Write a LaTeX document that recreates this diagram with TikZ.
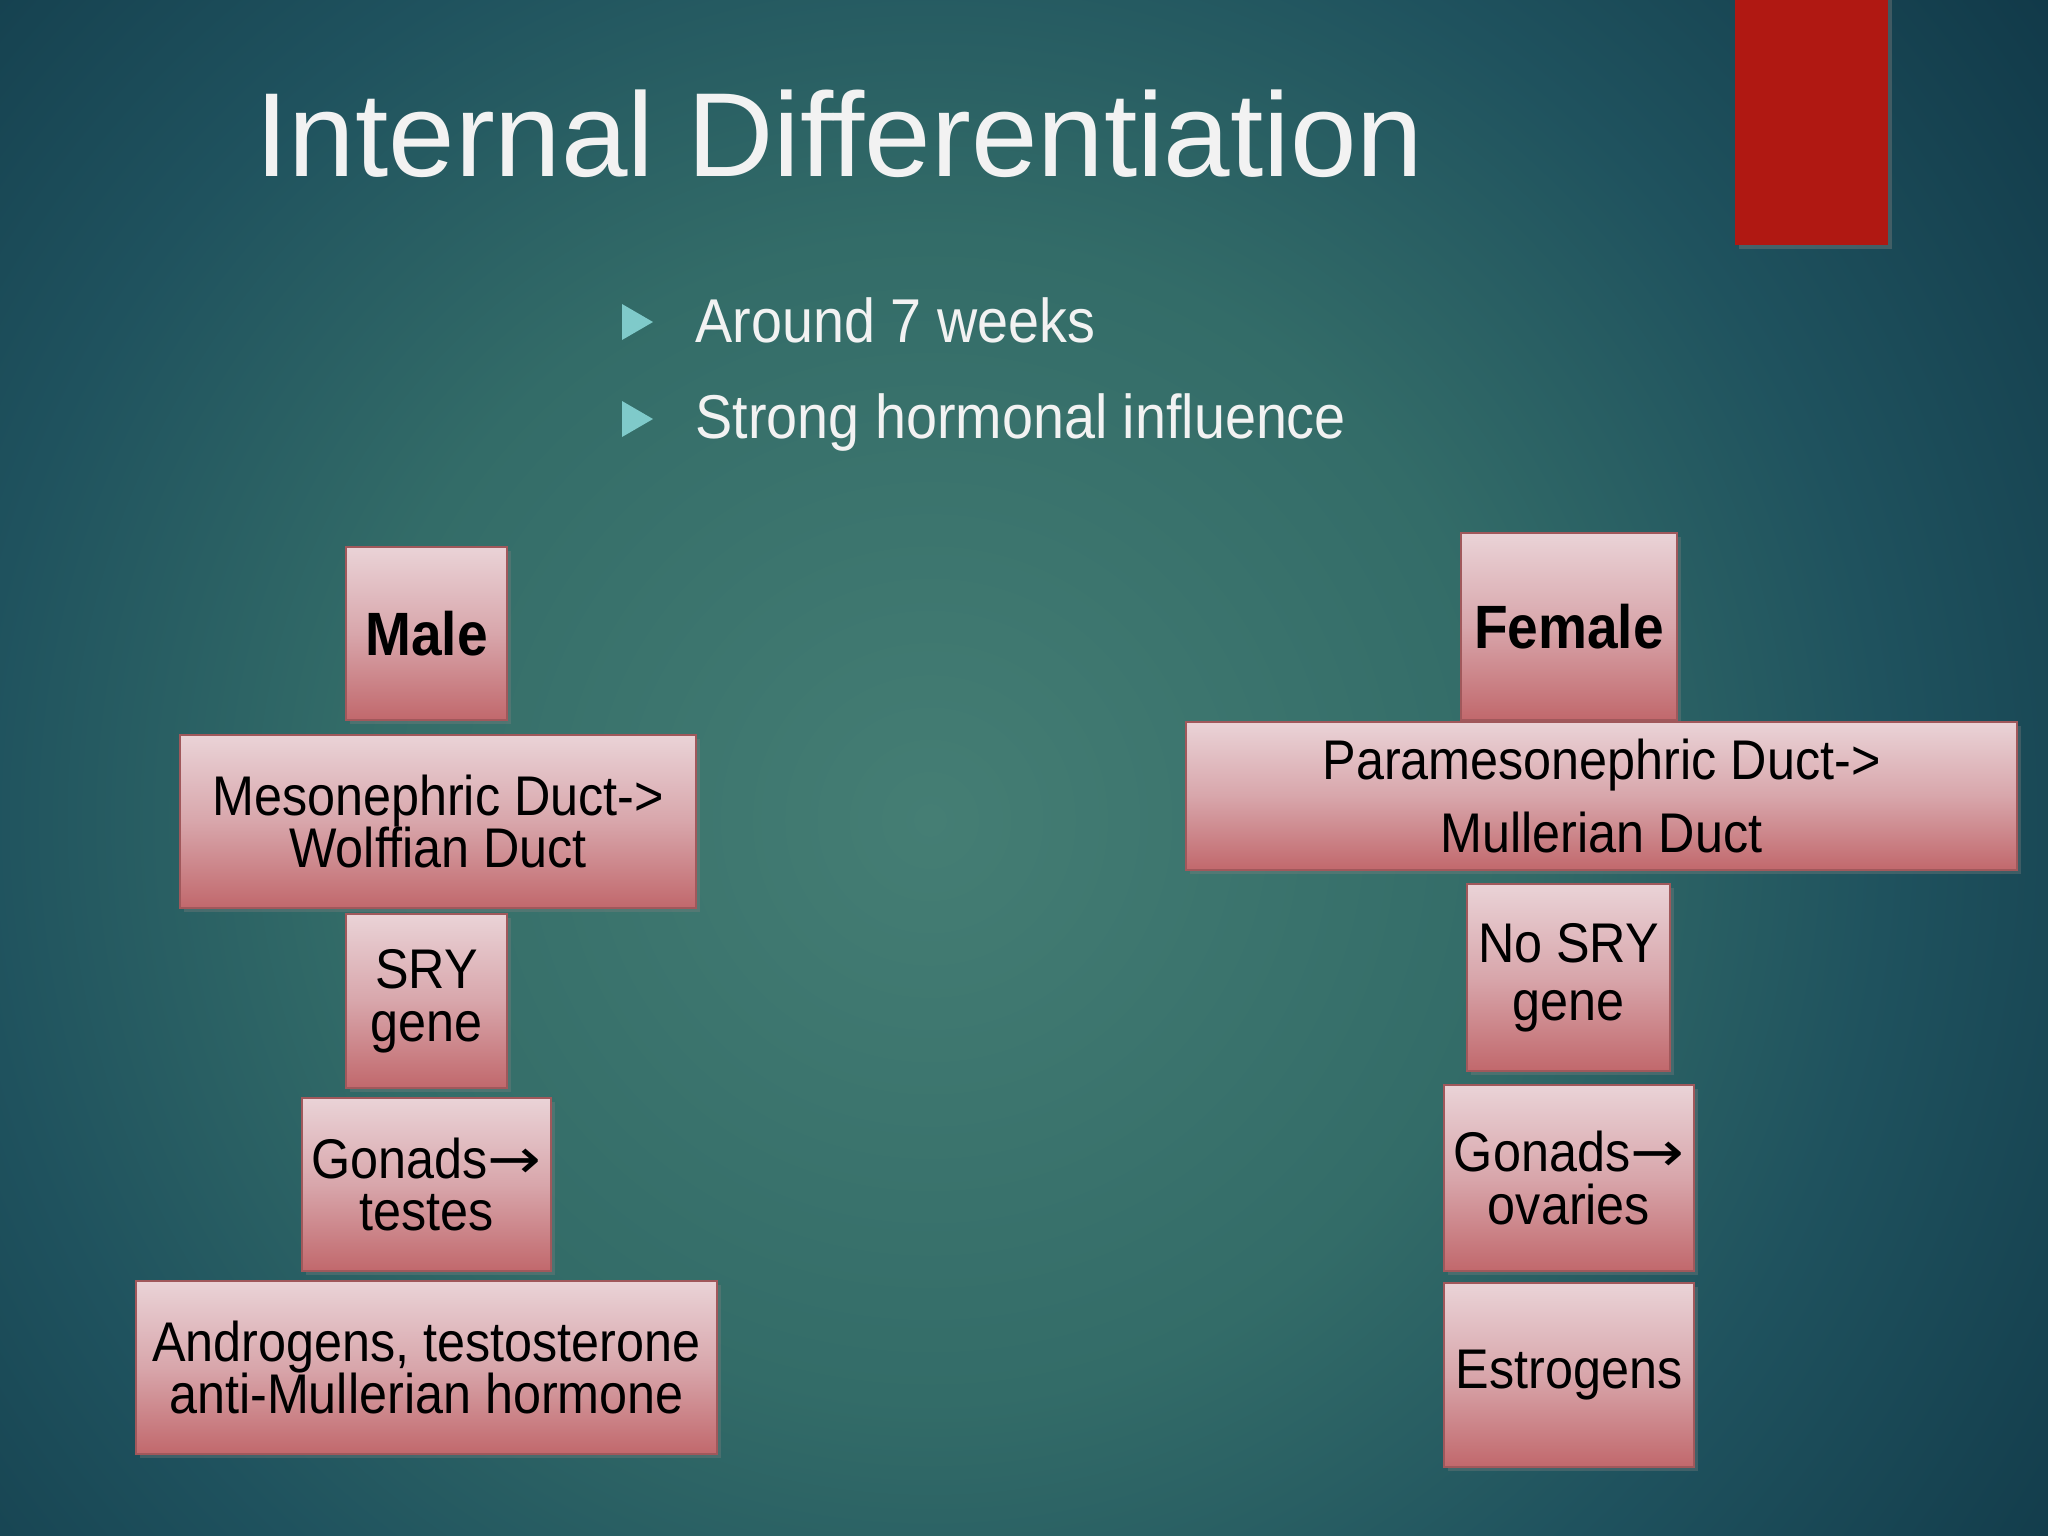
\documentclass[tikz,border=0pt]{standalone}
\usepackage{fontspec}
\usepackage{graphicx}
\setmainfont{Liberation Sans}
\newfontfamily\narrowfont{Liberation Sans}[FakeStretch=0.9]
\newfontfamily\arrowfont{DejaVu Sans}
\usetikzlibrary{shadows}

\definecolor{bgin}{HTML}{457E74}
\definecolor{bgmid}{HTML}{336C68}
\definecolor{bgedge}{HTML}{1F525E}
\definecolor{bgout}{HTML}{0F3646}
\definecolor{barred}{HTML}{B01812}
\definecolor{titlewhite}{HTML}{F2F2F2}
\definecolor{bulletteal}{HTML}{7FCACA}
\definecolor{boxtop}{HTML}{EAD3D7}
\definecolor{boxmid}{HTML}{D8A6AB}
\definecolor{boxbot}{HTML}{C1686C}
\definecolor{boxedge}{HTML}{A0585B}

\pgfdeclareradialshading{slidebg}{\pgfpoint{0bp}{0bp}}{color(0bp)=(bgin); color(10bp)=(bgmid); color(16.5bp)=(bgedge); color(25bp)=(bgout); color(50bp)=(bgout)}

\newcommand{\toarrow}{\scalebox{1.15}[1]{\arrowfont →}}

\begin{document}
\begin{tikzpicture}[
            x = 0.01cm, y = -0.01cm,
            pinkbox/.style={draw=boxedge, line width=0.6pt, top color=boxtop, bottom color=boxbot, middle color=boxmid,
                drop shadow={shadow xshift=1.2pt, shadow yshift=-1.2pt, opacity=.35},
                inner sep=0pt, align=center, text=black, font=\narrowfont\fontsize{15.9}{15}\selectfont},
            headbox/.style={pinkbox, font=\narrowfont\bfseries\fontsize{17.4}{18}\selectfont},
            bullet/.style={anchor=base west, inner sep=0pt, text=titlewhite, font=\narrowfont\fontsize{17.6}{20}\selectfont},
            ]

        \useasboundingbox (0,0) rectangle (2048,1536);
        \begin{scope}
            \clip (0,0) rectangle (2048,1536);
            \shade[shading=slidebg] (930,820) circle (1450);
        \end{scope}

        \fill[barred, drop shadow={shadow xshift=1.2pt, shadow yshift=-1.2pt, opacity=.4}] (1735,-10) rectangle (1888,245);

        \node[anchor=base west, inner sep=0pt, text=titlewhite, font=\fontsize{34}{40}\selectfont] (title) at (255,176) {Internal Differentiation};

        \fill[bulletteal] (622,304) -- (653,322) -- (622,340) -- cycle;
        \fill[bulletteal] (622,401) -- (653,419) -- (622,437) -- cycle;
        \node[bullet] (weeks) at (695,342) {Around 7 weeks};
        \node[bullet] (hormonal) at (695,438) {Strong hormonal influence};

        \node[headbox, minimum width=1.61cm, minimum height=1.73cm] (male) at (426.5,633.5) {Male};
        \node[pinkbox, minimum width=5.16cm, minimum height=1.73cm] (meso) at (438,821.5) {Mesonephric Duct->\\Wolffian Duct};
        \node[pinkbox, minimum width=1.61cm, minimum height=1.74cm] (sry) at (426.5,1001) {SRY\\gene};
        \node[pinkbox, minimum width=2.49cm, minimum height=1.73cm] (gonm) at (426.5,1184.5) {Gonads\toarrow\\testes};
        \node[pinkbox, minimum width=5.81cm, minimum height=1.73cm] (andro) at (426.5,1367.5) {Androgens, testosterone\\anti-Mullerian hormone};

        \node[headbox, minimum width=2.16cm, minimum height=1.87cm] (female) at (1569,626.5) {Female};
        \node[pinkbox, minimum width=8.31cm, minimum height=1.48cm, font=\narrowfont\fontsize{15.9}{20.5}\selectfont] (parameso) at (1601.5,796) {Paramesonephric Duct->\\Mullerian Duct};
        \node[pinkbox, minimum width=2.03cm, minimum height=1.87cm, font=\narrowfont\fontsize{15.9}{16.5}\selectfont] (nosry) at (1568.5,977.5) {No SRY\\gene};
        \node[pinkbox, minimum width=2.50cm, minimum height=1.86cm] (gonf) at (1569,1178) {Gonads\toarrow\\ovaries};
        \node[pinkbox, minimum width=2.50cm, minimum height=1.84cm] (estro) at (1569,1375) {Estrogens};
    \end{tikzpicture}
\end{document}
